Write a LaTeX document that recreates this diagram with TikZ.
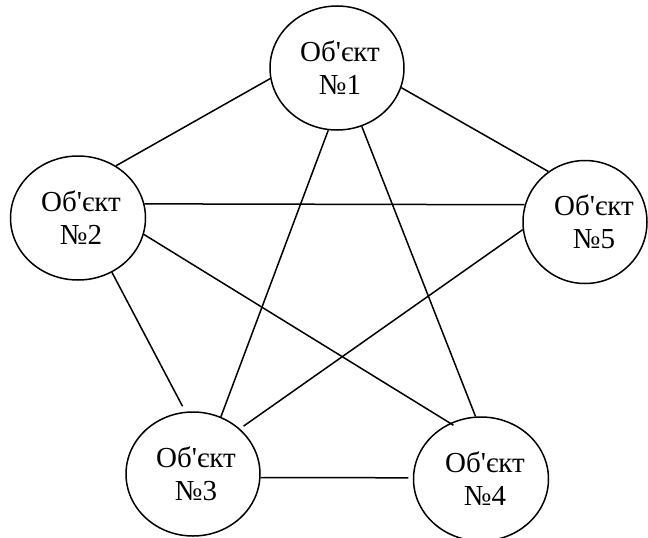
\documentclass[tikz,border=0pt]{standalone}
\usepackage{fontspec}
% a family loaded without TeX ligatures keeps the straight apostrophe
\newfontfamily\objfont{Liberation Serif}
\usetikzlibrary{shapes.geometric}
\begin{document}
\begin{tikzpicture}[x=1pt,y=-1pt,
  obj/.style={ellipse, draw, line width=1.5pt, minimum width=134pt,
              minimum height=124pt, inner sep=0pt},
  lbl/.style={font=\objfont\fontsize{29}{33}\selectfont, align=center, inner sep=0pt},
  link/.style={line width=1.5pt}]
\useasboundingbox (0,0) rectangle (648,538);

% objects
\node[obj, label={[lbl,xshift=3pt]center:Об'єкт\\№1}] (o1) at (337,68) {};
\node[obj, minimum width=135pt, label={[lbl,xshift=3pt]center:Об'єкт\\№2}] (o2) at (78,218) {};
\node[obj, label={[lbl,xshift=3pt]center:Об'єкт\\№3}] (o3) at (193,474) {};
\node[obj, minimum width=135pt, label={[lbl,xshift=4pt]center:Об'єкт\\№4}] (o4) at (481,479) {};
\node[obj, minimum width=124pt, minimum height=123pt,
      label={[lbl,xshift=9pt]center:Об'єкт\\№5}] (o5) at (585,222) {};

% links between every pair of objects
\draw[link] (o1.189) -- (o2.54);
\draw[link] (o1.-17) -- (o5.126);
\draw[link] (o1.262) -- (o3.64);
\draw[link] (o1.293) -- (o4.95);
\draw[link] (o2.12) -- (o5.164);
\draw[link, shorten >=6pt] (o2.302) -- (o3.97);
\draw[link, shorten >=-4pt] (o2.346) -- (o4.119);
\draw[link, shorten >=4.5pt] (o5.187) -- (o3.44);
\draw[link, shorten >=4.5pt] (o3.357) -- (o4.179);
\end{tikzpicture}
\end{document}
